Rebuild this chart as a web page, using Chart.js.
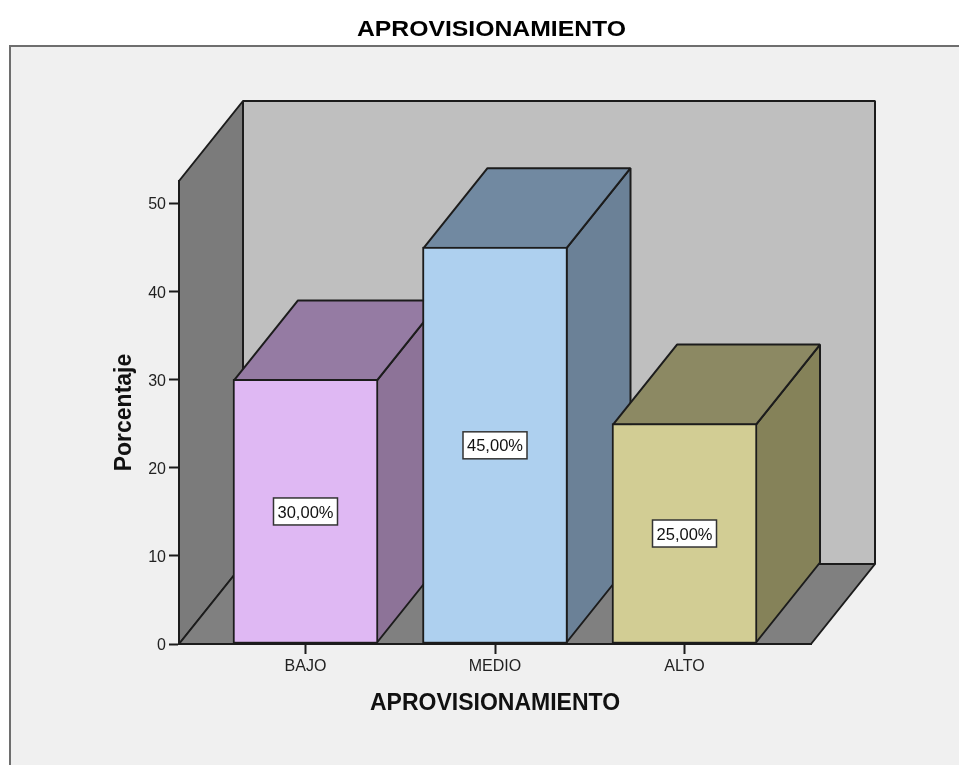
<!DOCTYPE html>
<html><head><meta charset="utf-8">
<style>html,body{margin:0;padding:0;background:#fff}canvas{display:block}#w{width:959px;height:765px}</style>
<script src="https://cdn.jsdelivr.net/npm/chart.js@4"></script>
</head><body><div id="w"><canvas id="c"></canvas></div>
<script>
const chartTitle = "APROVISIONAMIENTO";
const categories = ["BAJO", "MEDIO", "ALTO"];
const percentages = [30, 45, 25];
const valueLabels = ["30,00%", "45,00%", "25,00%"];
const yTicks = [0, 10, 20, 30, 40, 50];
const frontColors = ["#dfb8f3", "#aed0ef", "#d2cd94"];
const topColors = ["#957ba3", "#7189a1", "#8c8963"];
const sideColors = ["#8d7398", "#6b8197", "#858259"];
const FONT = '"Liberation Sans", Arial, sans-serif';
const LINE = "#1c1c1c";
const DX = 64, DY = 80;

function poly(ctx, pts, fill) {
  ctx.beginPath();
  pts.forEach((p, i) => i ? ctx.lineTo(p[0], p[1]) : ctx.moveTo(p[0], p[1]));
  ctx.closePath();
  ctx.fillStyle = fill;
  ctx.fill();
  ctx.strokeStyle = LINE;
  ctx.lineWidth = 2;
  ctx.lineJoin = "bevel";
  ctx.stroke();
}

const threeD = {
  id: "threeD",
  beforeDraw(chart) {
    const { ctx, chartArea: a } = chart;
    const items = chart.scales.y.getLabelItems();
    if (!items._shifted) {
      items.forEach(it => { it.options.translation[1] += 2; });
      items._shifted = true;
    }
    ctx.save();
    ctx.fillStyle = "#f0f0f0";
    ctx.fillRect(10, 47, chart.width, chart.height);
    ctx.strokeStyle = "#6e6e6e";
    ctx.lineWidth = 2;
    ctx.beginPath();
    ctx.moveTo(10, chart.height + 2);
    ctx.lineTo(10, 46);
    ctx.lineTo(chart.width + 2, 46);
    ctx.stroke();
    const l = a.left, r = a.right, t = a.top, b = a.bottom;
    poly(ctx, [[l + DX, t - DY], [r + DX, t - DY], [r + DX, b - DY], [l + DX, b - DY]], "#bfbfbf");
    poly(ctx, [[l, t], [l + DX, t - DY], [l + DX, b - DY], [l, b]], "#7b7b7b");
    poly(ctx, [[l, b], [l + DX, b - DY], [r + DX, b - DY], [r, b]], "#808080");
    ctx.restore();
  },
  beforeDatasetsDraw(chart) {
    const { ctx } = chart;
    ctx.save();
    chart.getDatasetMeta(0).data.forEach((el, i) => {
      const w = el.width - 2, x0 = el.x - w / 2, x1 = el.x + w / 2, yT = el.y + 1, yB = el.base - 1;
      poly(ctx, [[x1, yT], [x1 + DX, yT - DY], [x1 + DX, yB - DY], [x1, yB]], sideColors[i]);
      poly(ctx, [[x0, yT], [x0 + DX, yT - DY], [x1 + DX, yT - DY], [x1, yT]], topColors[i]);
    });
    ctx.restore();
  },
  afterDatasetsDraw(chart) {
    const { ctx } = chart;
    ctx.save();
    chart.getDatasetMeta(0).data.forEach((el, i) => {
      const cy = (el.y + el.base) / 2;
      const bw = 64, bh = 27;
      ctx.fillStyle = "#ffffff";
      ctx.strokeStyle = "#333333";
      ctx.lineWidth = 1.5;
      ctx.fillRect(el.x - bw / 2, cy - bh / 2, bw, bh);
      ctx.strokeRect(el.x - bw / 2, cy - bh / 2, bw, bh);
      ctx.fillStyle = "#111";
      ctx.font = "16.5px " + FONT;
      ctx.textAlign = "center";
      ctx.textBaseline = "middle";
      ctx.fillText(valueLabels[i], el.x, cy + 1.5);
    });
    ctx.fillStyle = "#000";
    ctx.font = "bold 22px " + FONT;
    ctx.textAlign = "center";
    ctx.textBaseline = "middle";
    ctx.translate(491.5, 30);
    ctx.scale(1.125, 1);
    ctx.fillText(chartTitle, 0, 0);
    ctx.restore();
  }
};

new Chart(document.getElementById("c"), {
  type: "bar",
  data: {
    datasets: [{
      data: categories.map((c, i) => ({ x: i, y: percentages[i] })),
      backgroundColor: frontColors,
      borderColor: LINE,
      borderWidth: 2,
      borderSkipped: false,
      barThickness: 145
    }]
  },
  plugins: [threeD],
  options: {
    responsive: true,
    maintainAspectRatio: false,
    animation: false,
    layout: { padding: { top: 181, right: 148, left: 0, bottom: 0 } },
    plugins: { legend: { display: false }, title: { display: false }, tooltip: { enabled: false } },
    scales: {
      x: {
        type: "linear",
        offset: false,
        min: -0.6675,
        max: 2.6675,
        afterBuildTicks(s) { s.ticks = categories.map((c, i) => ({ value: i })); },
        afterFit(s) { s.height = 121; },
        ticks: {
          autoSkip: false, maxRotation: 0, padding: 3, color: "#222",
          font: { family: FONT, size: 16 },
          callback: v => categories[v]
        },
        grid: { offset: false, drawOnChartArea: false, drawTicks: true, tickLength: 10, tickColor: LINE, tickWidth: 2 },
        border: { color: LINE, width: 2 },
        title: { display: true, text: chartTitle, color: "#111", font: { family: FONT, size: 23, weight: "bold" }, padding: { top: 0, bottom: 48 } }
      },
      y: {
        min: 0,
        max: 52.5,
        afterBuildTicks(s) { s.ticks = yTicks.map(v => ({ value: v })); },
        afterFit(s) { s.width = 179; },
        ticks: { padding: 3, color: "#222", font: { family: FONT, size: 16 } },
        grid: { drawOnChartArea: false, drawTicks: true, tickLength: 10, tickColor: LINE, tickWidth: 2 },
        border: { color: LINE, width: 2 },
        title: { display: true, text: "Porcentaje", color: "#111", font: { family: FONT, size: 23, weight: "bold" }, padding: { top: 111, bottom: 0 } }
      }
    }
  }
});
</script></body></html>
